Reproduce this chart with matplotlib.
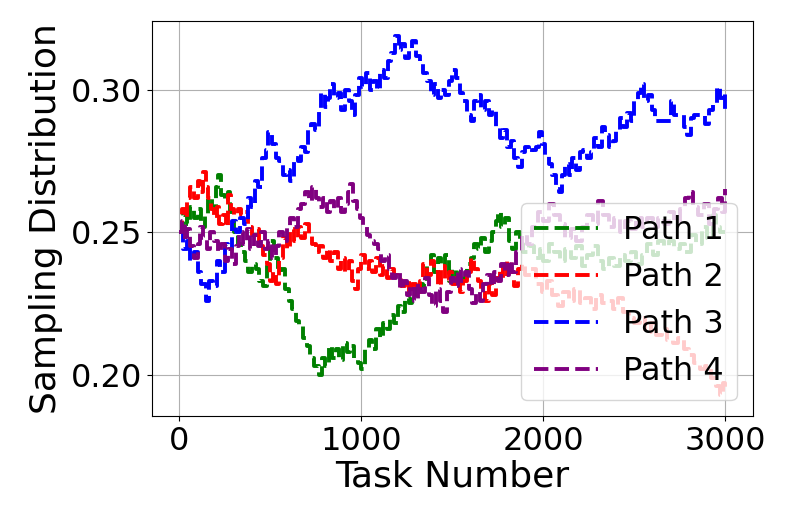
import matplotlib
matplotlib.use("Agg")
import matplotlib.pyplot as plt

# ---- data ----
p3_x = [0,20,40,60,80,100,120,145,165,185,205,225,250,270,290,310,335,355,375,395,415,435,455,475,490,510,530,550,570,590,610,630,650,670,690,705,725,745,765,780,800,815,830,850,870,890,910,930,950,965,985,1005,1025,1045,1065,1085,1105,1125,1145,1165,1187,1205,1220,1240,1260,1280,1300,1320,1340,1360,1380,1400,1420,1440,1460,1480,1500,1520,1540,1560,1580,1600,1620,1640,1660,1680,1700,1720,1740,1760,1780,1800,1820,1840,1860,1880,1900,1920,1940,1960,1975,1990,2010,2030,2050,2070,2085,2100,2120,2140,2160,2180,2200,2220,2240,2260,2280,2300,2320,2340,2360,2380,2400,2420,2440,2460,2480,2500,2520,2535,2555,2575,2595,2615,2640,2660,2680,2700,2715,2735,2755,2775,2790,2810,2830,2850,2870,2890,2910,2930,2955,2970,2985,3000]
p3_y = [0.250,0.244,0.247,0.240,0.243,0.236,0.232,0.226,0.233,0.231,0.240,0.236,0.246,0.244,0.254,0.250,0.255,0.253,0.262,0.259,0.268,0.266,0.276,0.279,0.285,0.281,0.276,0.275,0.270,0.272,0.268,0.276,0.275,0.280,0.278,0.286,0.288,0.286,0.293,0.299,0.294,0.297,0.302,0.297,0.299,0.293,0.300,0.296,0.291,0.298,0.304,0.301,0.306,0.300,0.303,0.300,0.307,0.304,0.310,0.313,0.319,0.314,0.316,0.311,0.314,0.317,0.312,0.310,0.306,0.303,0.298,0.302,0.297,0.300,0.298,0.303,0.307,0.304,0.299,0.296,0.291,0.289,0.296,0.298,0.293,0.296,0.291,0.293,0.287,0.283,0.286,0.280,0.282,0.276,0.273,0.278,0.280,0.278,0.279,0.280,0.285,0.281,0.277,0.274,0.270,0.265,0.264,0.270,0.274,0.270,0.276,0.272,0.278,0.279,0.276,0.278,0.283,0.280,0.287,0.284,0.280,0.282,0.286,0.290,0.287,0.292,0.289,0.296,0.299,0.302,0.296,0.298,0.293,0.289,0.289,0.289,0.289,0.296,0.291,0.291,0.291,0.287,0.284,0.290,0.291,0.291,0.291,0.288,0.293,0.295,0.301,0.297,0.299,0.293]

p1_x = [0,20,40,60,80,100,120,140,160,180,200,215,230,250,265,280,300,320,340,360,380,400,420,440,460,480,500,520,540,560,580,600,620,640,660,680,700,720,740,765,785,800,820,840,860,880,900,920,940,960,980,1000,1020,1040,1060,1080,1100,1120,1140,1160,1180,1200,1220,1240,1260,1280,1300,1320,1340,1360,1380,1400,1420,1440,1460,1480,1500,1520,1540,1560,1580,1600,1620,1640,1660,1680,1700,1720,1740,1750,1770,1790,1810,1830,1850,1870,1890,1920,1950,1980,2000,2030,2060,2090,2120,2150,2180,2210,2240,2270,2300,2330,2360,2390,2420,2450,2480,2510,2540,2570,2600,2630,2660,2690,2720,2750,2780,2810,2840,2870,2900,2930,2950,2970,3000]
p1_y = [0.250,0.256,0.253,0.259,0.255,0.258,0.252,0.256,0.262,0.259,0.266,0.270,0.263,0.261,0.264,0.257,0.250,0.246,0.243,0.240,0.236,0.239,0.237,0.233,0.231,0.238,0.247,0.241,0.236,0.237,0.230,0.226,0.223,0.219,0.217,0.213,0.210,0.206,0.203,0.200,0.206,0.203,0.210,0.206,0.209,0.205,0.211,0.208,0.210,0.206,0.204,0.202,0.209,0.212,0.209,0.216,0.213,0.218,0.216,0.221,0.218,0.224,0.222,0.227,0.225,0.230,0.228,0.232,0.231,0.238,0.242,0.236,0.241,0.238,0.242,0.233,0.237,0.231,0.236,0.234,0.239,0.241,0.246,0.244,0.248,0.243,0.247,0.250,0.254,0.257,0.252,0.255,0.247,0.244,0.250,0.246,0.243,0.245,0.241,0.244,0.240,0.246,0.243,0.240,0.244,0.241,0.245,0.238,0.242,0.245,0.240,0.237,0.241,0.238,0.242,0.240,0.243,0.239,0.242,0.246,0.242,0.247,0.245,0.247,0.244,0.246,0.243,0.249,0.246,0.252,0.248,0.256,0.252,0.250,0.250]

p2_x = [0,15,30,45,60,80,100,115,130,145,160,175,190,205,220,240,255,270,285,300,320,340,360,380,400,420,440,460,480,500,515,530,550,570,590,610,630,650,670,690,710,730,750,770,790,810,830,850,870,890,910,930,950,965,980,1000,1020,1040,1060,1080,1100,1120,1140,1160,1180,1200,1220,1240,1260,1280,1300,1320,1340,1360,1380,1400,1420,1440,1460,1480,1500,1520,1540,1560,1580,1600,1620,1640,1660,1680,1700,1720,1740,1760,1780,1800,1820,1840,1860,1880,1900,1930,1960,1990,2020,2050,2080,2110,2140,2170,2200,2230,2260,2290,2320,2350,2380,2410,2440,2470,2500,2530,2560,2590,2620,2650,2680,2710,2740,2770,2800,2830,2860,2890,2920,2950,2970,2985,3000]
p2_y = [0.250,0.258,0.255,0.262,0.266,0.262,0.268,0.264,0.271,0.266,0.262,0.258,0.255,0.259,0.253,0.256,0.252,0.263,0.258,0.256,0.258,0.256,0.257,0.252,0.249,0.251,0.245,0.242,0.239,0.233,0.236,0.232,0.241,0.248,0.244,0.251,0.247,0.252,0.248,0.253,0.249,0.246,0.243,0.245,0.241,0.244,0.240,0.243,0.237,0.241,0.236,0.240,0.233,0.230,0.237,0.242,0.237,0.240,0.236,0.241,0.235,0.238,0.234,0.237,0.235,0.234,0.231,0.233,0.228,0.232,0.229,0.233,0.239,0.235,0.240,0.236,0.231,0.238,0.233,0.236,0.232,0.234,0.229,0.233,0.236,0.241,0.237,0.233,0.230,0.226,0.232,0.228,0.234,0.238,0.234,0.240,0.236,0.231,0.237,0.239,0.235,0.237,0.232,0.229,0.233,0.228,0.224,0.229,0.226,0.230,0.225,0.227,0.223,0.228,0.225,0.226,0.223,0.227,0.222,0.220,0.218,0.220,0.215,0.218,0.214,0.216,0.212,0.211,0.213,0.209,0.207,0.204,0.202,0.203,0.199,0.196,0.193,0.197,0.195]

p4_x = [0,15,30,45,60,80,100,115,130,150,170,190,210,230,250,270,290,310,330,350,370,390,410,430,450,470,490,510,530,550,570,590,610,630,650,670,690,710,730,750,770,790,810,830,850,870,890,910,925,940,955,975,995,1010,1030,1050,1070,1090,1110,1130,1150,1170,1190,1210,1230,1250,1270,1290,1310,1330,1350,1370,1390,1410,1430,1450,1470,1490,1510,1530,1550,1570,1590,1610,1630,1650,1670,1690,1710,1730,1750,1770,1790,1810,1830,1850,1880,1910,1940,1970,2000,2030,2060,2090,2120,2150,2180,2210,2240,2270,2300,2330,2360,2390,2420,2450,2480,2510,2540,2570,2600,2630,2660,2690,2720,2750,2780,2800,2820,2850,2880,2910,2940,2960,2980,3000]
p4_y = [0.250,0.254,0.247,0.251,0.245,0.241,0.246,0.252,0.248,0.244,0.250,0.247,0.243,0.246,0.240,0.244,0.239,0.245,0.250,0.246,0.251,0.244,0.249,0.245,0.250,0.244,0.247,0.241,0.245,0.250,0.247,0.252,0.255,0.252,0.258,0.260,0.264,0.261,0.266,0.262,0.259,0.262,0.257,0.261,0.258,0.262,0.257,0.260,0.264,0.267,0.261,0.258,0.255,0.252,0.249,0.247,0.246,0.244,0.240,0.242,0.237,0.234,0.236,0.230,0.233,0.228,0.231,0.226,0.232,0.229,0.234,0.228,0.224,0.230,0.226,0.222,0.229,0.234,0.231,0.237,0.233,0.236,0.230,0.225,0.229,0.226,0.232,0.235,0.231,0.236,0.233,0.239,0.235,0.240,0.236,0.243,0.249,0.246,0.252,0.257,0.254,0.260,0.256,0.253,0.248,0.251,0.247,0.252,0.256,0.253,0.261,0.256,0.252,0.255,0.250,0.254,0.251,0.255,0.252,0.255,0.252,0.255,0.253,0.257,0.254,0.258,0.262,0.264,0.259,0.256,0.260,0.253,0.258,0.262,0.257,0.265]

labels = ["Path 1", "Path 2", "Path 3", "Path 4"]
colors = ["green", "red", "blue", "purple"]

fig = plt.figure(figsize=(7.89, 5.26), dpi=100)
ax = fig.add_axes([152/789, 1 - 416/526, (752.7-152)/789, (416-20.5)/526])

series = [(p1_x, p1_y), (p2_x, p2_y), (p3_x, p3_y), (p4_x, p4_y)]
for (xs, ys), lab, col in zip(series, labels, colors):
    ax.plot(xs, ys, linestyle="--", color=col, linewidth=2.8, label=lab,
            drawstyle="steps-post")

ax.set_xlim(-150, 3150)
ax.set_ylim(0.1855, 0.3243)
ax.set_xticks([0, 1000, 2000, 3000])
ax.set_yticks([0.20, 0.25, 0.30])
ax.set_yticklabels(["0.20", "0.25", "0.30"])
ax.tick_params(labelsize=23)
ax.set_xlabel("Task Number", fontsize=26, labelpad=2)
ax.set_ylabel("Sampling Distribution", fontsize=26, labelpad=6)
ax.grid(True)
ax.legend(loc="lower right", fontsize=23, handlelength=2.0)

fig.savefig("out.png", dpi=100)
